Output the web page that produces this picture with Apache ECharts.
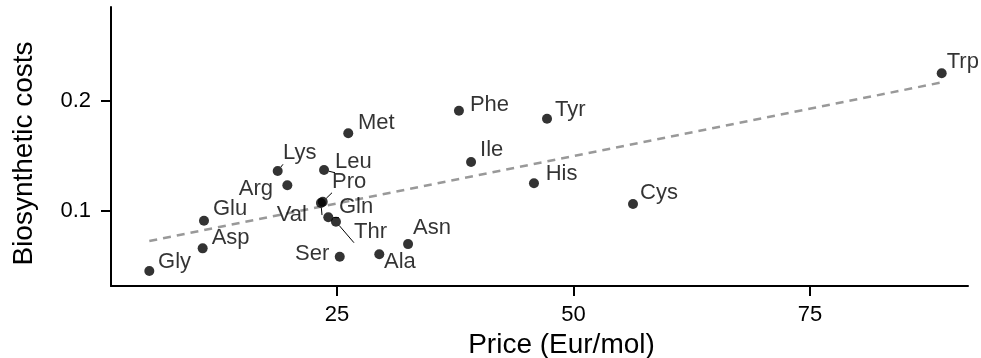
<!DOCTYPE html>
<html>
<head>
<meta charset="utf-8">
<script src="https://cdn.jsdelivr.net/npm/echarts@6/dist/echarts.min.js"></script>
<style>
  html, body { margin: 0; padding: 0; background: #fff; }
  #chart { width: 981px; height: 358px; }
</style>
</head>
<body>
<div id="chart"></div>
<script>
// values
const aminoAcids = ['Gly', 'Asp', 'Glu', 'Arg', 'Lys', 'Leu', 'Met', 'Pro', 'Val', 'Gln',
                    'Thr', 'Ser', 'Ala', 'Asn', 'Phe', 'Ile', 'Tyr', 'His', 'Cys', 'Trp'];
const prices = [5.16, 10.80, 10.94, 19.75, 18.73, 23.63, 26.19, 23.49, 23.30, 24.08,
                24.89, 25.29, 29.47, 32.51, 37.89, 39.17, 47.20, 45.82, 56.29, 88.92];
const costs = [0.0450, 0.0657, 0.0909, 0.1232, 0.1362, 0.1371, 0.1706, 0.1082, 0.1070, 0.0940,
               0.0900, 0.0581, 0.0603, 0.0696, 0.1912, 0.1444, 0.1839, 0.1250, 0.1061, 0.2253];
// dashed trend line, end points
const fitPrices = [5.16, 88.92];
const fitCosts = [0.0724, 0.2170];
const xTicks = [25, 50, 75];
const yTicks = [0.1, 0.2];

// where each label sits next to its dot: side, dx, dy, leader segment
const labelPlace = {
  Gly: ['right', 3.7, -9.3], Asp: ['right', 4, -10], Glu: ['right', 4, -11.7],
  Arg: ['left', -9.3, 4, true], Lys: ['right', 0.3, -17.7, true], Leu: ['right', 6, -8.3, true],
  Met: ['right', 4.7, -10], Pro: ['right', 4.3, -20, true], Val: ['left', -9, 12, true],
  Gln: ['right', 5.7, -10.6, true], Thr: ['right', 13, 10, true], Ser: ['left', -5.4, -2.4],
  Ala: ['right', -0.3, 7.4], Asn: ['right', 0, -15.7], Phe: ['right', 6, -6],
  Ile: ['right', 4, -12], Tyr: ['right', 3, -8.7], His: ['right', 6.7, -9],
  Cys: ['right', 2, -11.3], Trp: ['right', 0, -11]
};

const FONT = '"Liberation Sans", Arial, Helvetica, sans-serif';

const points = aminoAcids.map((name, i) => {
  const p = labelPlace[name];
  return {
    name: name,
    value: [prices[i], costs[i]],
    label: { position: p[0], offset: [p[1], p[2]] },
    labelLine: { show: !!p[3] }
  };
});

const chart = echarts.init(document.getElementById('chart'));

const axisCommon = {
  type: 'value',
  nameLocation: 'middle',
  nameTextStyle: { fontFamily: FONT, fontSize: 28, color: '#000' },
  splitLine: { show: false },
  axisLine: { show: true, lineStyle: { color: '#000', width: 2 } },
  axisTick: { show: true, length: 10, lineStyle: { color: '#000', width: 2 } },
  axisLabel: { fontFamily: FONT, fontSize: 22, color: '#000' }
};

chart.setOption({
  animation: false,
  backgroundColor: '#fff',
  grid: { left: 111, right: 13, top: 7, bottom: 72, outerBoundsMode: 'none', containLabel: false },
  xAxis: Object.assign({}, axisCommon, {
    name: 'Price (Eur/mol)',
    nameGap: 40,
    nameTextStyle: Object.assign({}, axisCommon.nameTextStyle, { padding: [0, 0, 0, 44] }),
    min: 1.11,
    max: 91.7,
    axisTick: Object.assign({}, axisCommon.axisTick, { customValues: xTicks }),
    axisLabel: Object.assign({}, axisCommon.axisLabel, { customValues: xTicks, margin: 18 })
  }),
  yAxis: Object.assign({}, axisCommon, {
    name: 'Biosynthetic costs',
    nameGap: 73,
    nameTextStyle: Object.assign({}, axisCommon.nameTextStyle, { padding: [0, 14, 0, 0] }),
    min: 0.0314,
    max: 0.2857,
    axisTick: Object.assign({}, axisCommon.axisTick, { customValues: yTicks }),
    axisLabel: Object.assign({}, axisCommon.axisLabel, { customValues: yTicks, margin: 20 })
  }),
  series: [
    {
      type: 'line',
      data: fitPrices.map((x, i) => [x, fitCosts[i]]),
      symbol: 'none',
      silent: true,
      lineStyle: { color: '#999', width: 2.5, type: [8, 6] },
      z: 1
    },
    {
      type: 'scatter',
      data: points,
      symbolSize: 10,
      itemStyle: { color: '#000' },
      label: {
        show: true,
        distance: 0,
        formatter: p => p.name,
        fontFamily: FONT,
        fontSize: 22,
        color: '#000'
      },
      labelLine: { lineStyle: { color: '#000', width: 1 } },
      z: 2
    }
  ]
});
</script>
</body>
</html>
